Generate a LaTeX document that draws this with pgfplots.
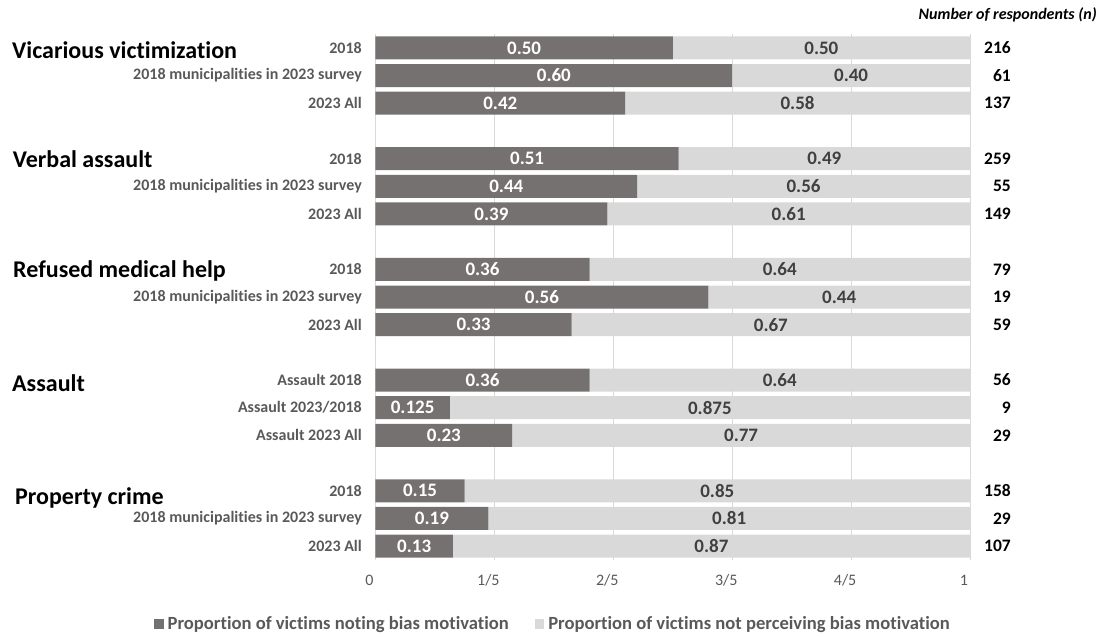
\documentclass[border=0pt]{standalone}
\usepackage{fontspec}
\setmainfont{Carlito}[Ligatures=NoCommon]
\usepackage{pgfplots}
\pgfplotsset{compat=1.18}
\usepackage{pgfplotstable}
\definecolor{darkbar}{HTML}{767171}
\definecolor{lightbar}{HTML}{D9D9D9}
\definecolor{txtgray}{HTML}{595959}
\definecolor{lbltxt}{HTML}{404040}
\definecolor{gridc}{HTML}{D9D9D9}

\pgfplotstableread{
pos dark light dl ll n
0 0.50 0.50 0.50 0.50 216
1 0.60 0.40 0.60 0.40 61
2 0.42 0.58 0.42 0.58 137
4 0.51 0.49 0.51 0.49 259
5 0.44 0.56 0.44 0.56 55
6 0.39 0.61 0.39 0.61 149
8 0.36 0.64 0.36 0.64 79
9 0.56 0.44 0.56 0.44 19
10 0.33 0.67 0.33 0.67 59
12 0.36 0.64 0.36 0.64 56
13 0.125 0.875 0.125 0.875 9
14 0.23 0.77 0.23 0.77 29
16 0.15 0.85 0.15 0.85 158
17 0.19 0.81 0.19 0.81 29
18 0.13 0.87 0.13 0.87 107
}\data

\begin{document}
\begin{tikzpicture}[x=1pt,y=1pt]
\useasboundingbox (0,0) rectangle (1101,637);
\begin{axis}[
  at={(375.5pt,77pt)}, anchor=south west,
  scale only axis, width=594.5pt, height=526pt,
  xbar stacked, bar width=23pt,
  xmin=0, xmax=1, ymin=-0.5, ymax=18.5, y dir=reverse,
  axis line style={draw=none},
  major tick length=0pt,
  xtick={0,0.2,0.4,0.6,0.8,1},
  xticklabels={0,1/5,2/5,3/5,4/5,1},
  xmajorgrids, grid style={gridc, line width=0.8pt},
  ytick={0,1,2,4,5,6,8,9,10,12,13,14,16,17,18},
  yticklabels={2018,2018 municipalities in 2023 survey,2023 All,
    2018,2018 municipalities in 2023 survey,2023 All,
    2018,2018 municipalities in 2023 survey,2023 All,
    Assault 2018,Assault 2023/2018,Assault 2023 All,
    2018,2018 municipalities in 2023 survey,2023 All},
  yticklabel style={font=\bfseries\fontsize{16}{18}\selectfont, text=txtgray, anchor=east, inner sep=0pt, xshift=-13.5pt},
  xticklabel style={font=\fontsize{16}{18}\selectfont, text=txtgray, anchor=center, inner sep=0pt, yshift=-20pt, xshift=-6pt},
  clip=false,
  legend columns=2,
  legend style={at={(0.3003,-0.122)}, anchor=center, draw=none, fill=none,
    font=\bfseries\fontsize{18.6}{20}\selectfont, text=txtgray,
    nodes={inner xsep=4pt, inner ysep=0pt},
    /tikz/every even column/.append style={column sep=22pt},
    inner sep=0pt},
  legend image code/.code={\path[#1, draw=none] (0pt,-5pt) rectangle (9.5pt,5pt);},
]
\addplot[fill=darkbar, draw=none] table[x=dark, y=pos] {\data};
\addlegendentry{Proportion of victims noting bias motivation}
\addplot[fill=lightbar, draw=none] table[x=light, y=pos] {\data};
\addlegendentry{Proportion of victims not perceiving bias motivation}
\end{axis}

\begin{axis}[
  at={(375.5pt,77pt)}, anchor=south west,
  scale only axis, width=594.5pt, height=526pt,
  xmin=0, xmax=1, ymin=-0.5, ymax=18.5, y dir=reverse,
  axis line style={draw=none},
  major tick length=0pt,
  xtick=\empty,
  ytick=data,
  yticklabels from table={\data}{n},
  yticklabel pos=right,
  yticklabel style={font=\bfseries\fontsize{17.5}{19}\selectfont, text=black, anchor=east, inner sep=0pt, xshift=41pt},
  clip=false,
  point meta=explicit symbolic,
]
\addplot[draw=none, nodes near coords,
  nodes near coords style={anchor=center, inner sep=0pt, font=\bfseries\fontsize{19}{21}\selectfont, text=white}]
  table[x expr=\thisrow{dark}/2, y=pos, meta=dl] {\data};
\addplot[draw=none, nodes near coords,
  nodes near coords style={anchor=center, inner sep=0pt, font=\bfseries\fontsize{19}{21}\selectfont, text=lbltxt}]
  table[x expr=(1+\thisrow{dark})/2, y=pos, meta=ll] {\data};
\end{axis}

\begin{scope}[every node/.style={anchor=base west, inner sep=0pt, font=\bfseries\fontsize{24}{28}\selectfont}]
\node at (12,578.7) {Vicarious victimization};
\node at (12.7,469) {Verbal assault};
\node at (13,359) {Refused medical help};
\node at (12,245) {Assault};
\node at (15,132) {Property crime};
\end{scope}
\node[anchor=base east, inner sep=0pt, font=\bfseries\itshape\fontsize{16}{18}\selectfont] at (1097,617) {Number of respondents (n)};
\end{tikzpicture}
\end{document}
